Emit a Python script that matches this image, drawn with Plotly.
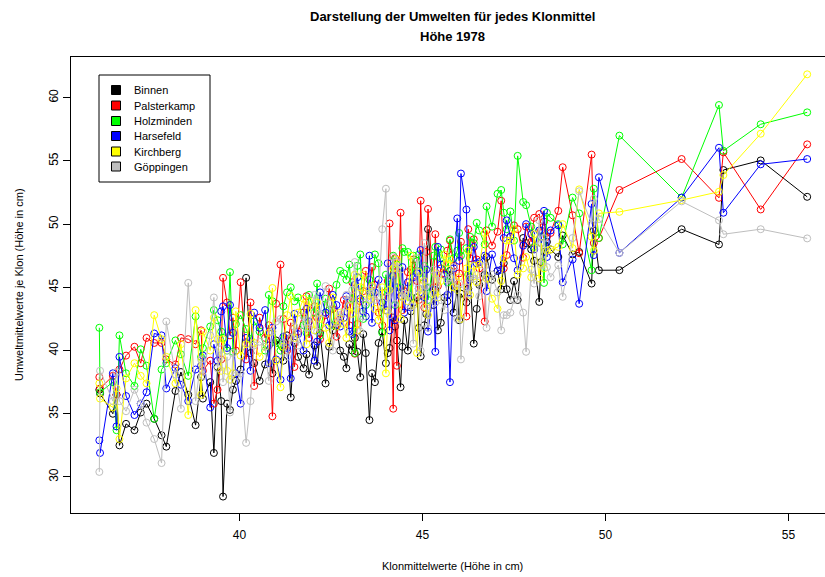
import plotly.graph_objects as go

# Klonmittelwerte (x) and the six environment means per clone (cm, 1978)
clone_mean = [36.17, 36.19, 36.54, 36.64, 36.72, 37.13, 37.46, 37.67, 37.87, 38.0,
              38.4, 38.6, 38.8, 39.0, 39.2, 39.3, 39.5, 39.55, 39.66, 39.74,
              39.9, 40.03, 40.18, 40.4, 40.55, 40.7, 40.9, 41.0, 41.12, 41.3,
              41.4, 41.6, 41.75, 41.9, 42.05, 42.2, 42.35, 42.55, 42.75, 42.85,
              43.0, 43.15, 43.3, 43.45, 43.55, 43.7, 43.9, 44.0, 44.1, 44.2,
              44.3, 44.4, 44.5, 44.6, 44.75, 44.85, 44.95, 45.05, 45.15, 45.3,
              45.35, 45.5, 45.6, 45.75, 45.85, 45.95, 46.05, 46.2, 46.3, 46.4,
              46.55, 46.7, 46.75, 47.05, 47.15, 47.3, 47.4, 47.6, 47.75, 47.83,
              47.97, 48.19, 48.24, 48.32, 48.5, 48.71, 48.83, 49.28, 49.62, 49.68,
              49.82, 50.38, 52.08, 53.1, 53.22, 54.24, 55.51,
              38.25, 38.95, 39.4, 39.82, 40.3, 40.8, 41.2, 41.5, 41.83, 42.12,
              42.45, 42.65, 42.92, 43.08, 43.22, 43.38, 43.62, 43.8, 44.05, 44.25,
              44.45, 44.68, 44.9, 45.1, 45.42, 45.68, 46.0, 46.25, 46.48, 46.9,
              47.22, 47.5, 48.05, 48.4, 37.3, 36.9, 49.1]

binnen = [36.9, 36.6, 35.0, 36.5, 32.5, 33.7, 35.8, 34.6, 33.3, 32.4,
          38.3, 36.5, 34.1, 36.2, 37.5, 31.9, 36.0, 28.45, 35.8, 35.3,
          37.6, 38.5, 45.75, 39.0, 37.6, 38.9, 38.2, 40.8, 40.5, 41.2,
          36.3, 39.5, 38.6, 38.1, 40.4, 41.4, 37.4, 41.6, 40.0, 39.5,
          40.5, 41.0, 37.9, 39.8, 34.5, 37.5, 41.5, 39.0, 40.2, 42.6,
          40.8, 37.1, 42.4, 40.0, 43.8, 44.2, 39.55, 42.0, 49.6, 43.6,
          44.8, 42.2, 44.2, 46.3, 43.0, 45.0, 44.5, 43.8, 45.8, 40.55,
          45.2, 46.0, 47.4, 46.3, 44.85, 44.85, 44.0, 44.0, 48.9, 48.5,
          48.0, 43.85, 47.0, 47.8, 48.0, 47.4, 49.1, 47.8, 45.3, 49.5,
          46.35, 46.36, 49.6, 48.39, 54.28, 55.04, 52.16,
          36.8, 37.9, 38.7, 36.9, 39.8, 40.4, 39.2, 40.6, 39.7, 38.8,
          40.3, 41.9, 38.6, 40.0, 39.9, 41.3, 38.2, 40.6, 39.8, 41.9,
          40.3, 43.1, 41.8, 42.9, 41.6, 43.9, 42.4, 44.9, 43.3, 45.6,
          46.9, 45.5, 47.1, 48.6, 35.1, 34.2, 47.6]

palsterkamp = [37.9, 37.0, 38.0, 36.5, 38.5, 40.3, 41.0, 40.6, 40.6, 39.3,
               41.0, 40.9, 40.5, 38.4, 39.2, 35.8, 39.3, 45.75, 43.8, 41.2,
               40.0, 45.4, 39.3, 37.2, 42.6, 41.0, 34.8, 43.7, 46.8, 40.0,
               42.2, 41.5, 43.0, 41.0, 43.5, 40.9, 42.8, 43.3, 42.5, 44.0,
               42.0, 39.75, 43.9, 46.3, 44.8, 45.2, 42.0, 44.6, 50.05, 35.4,
               38.8, 50.9, 44.7, 46.2, 47.2, 45.5, 51.85, 43.4, 51.2, 45.0,
               49.2, 46.5, 46.1, 48.7, 46.7, 45.2, 48.6, 42.7, 47.3, 48.8,
               46.5, 42.3, 49.5, 49.4, 51.85, 47.55, 49.0, 49.6, 47.35, 49.8,
               48.6, 50.8, 49.5, 50.2, 49.3, 51.05, 54.5, 47.7, 55.5, 48.5,
               48.9, 52.7, 55.15, 52.08, 55.68, 51.16, 56.31,
               38.9, 41.6, 36.9, 42.6, 43.8, 42.0, 42.5, 38.7, 44.3, 42.6,
               44.9, 41.1, 43.6, 45.4, 42.1, 44.7, 46.6, 43.0, 45.5, 47.3,
               43.2, 46.4, 44.0, 47.8, 45.1, 47.9, 46.1, 49.6, 47.2, 48.3,
               46.5, 49.9, 50.5, 49.0, 39.0, 39.6, 50.7]

holzminden = [41.8, 36.7, 37.5, 33.7, 41.2, 37.2, 38.8, 34.6, 38.5, 39.0,
              39.7, 38.0, 42.7, 40.2, 41.9, 43.2, 41.5, 41.0, 40.0, 46.2,
              42.1, 42.8, 41.7, 42.3, 41.5, 40.0, 43.9, 40.6, 40.0, 44.6,
              45.0, 44.2, 42.0, 44.4, 43.0, 41.2, 44.1, 42.0, 46.3, 46.1,
              46.8, 39.8, 47.6, 43.6, 45.6, 47.6, 41.4, 46.0, 45.2, 47.5,
              46.8, 45.0, 47.8, 47.8, 47.5, 46.3, 45.8, 46.7, 44.0, 47.5,
              48.2, 48.0, 46.9, 48.8, 47.3, 47.9, 47.5, 48.1, 49.0, 48.5,
              49.5, 48.4, 51.4, 52.4, 52.7, 49.6, 51.0, 55.4, 51.75, 51.5,
              49.8, 49.5, 49.0, 45.35, 50.5, 50.0, 48.4, 50.85, 46.35, 52.8,
              48.9, 57.0, 52.1, 59.42, 55.8, 57.9, 58.84,
              40.8, 39.5, 42.4, 39.9, 40.9, 44.4, 43.5, 43.9, 41.4, 45.3,
              43.2, 45.2, 45.6, 44.1, 46.7, 42.5, 44.6, 46.9, 44.8, 43.6,
              48.1, 44.2, 47.6, 45.0, 47.4, 45.4, 49.3, 46.0, 50.1, 49.8,
              50.9, 48.7, 48.2, 50.9, 40.1, 38.2, 52.1]

harsefeld = [32.9, 31.9, 38.2, 34.0, 39.5, 34.9, 36.7, 41.35, 41.2, 37.0,
             37.3, 36.0, 38.5, 39.6, 35.5, 40.5, 43.1, 43.5, 40.2, 43.6,
             38.2, 35.8, 41.0, 43.0, 41.8, 43.2, 41.8, 39.3, 37.7, 40.2,
             37.8, 41.3, 40.0, 42.3, 39.2, 44.6, 43.0, 44.4, 41.9, 42.6,
             41.5, 45.2, 44.1, 42.7, 47.5, 44.6, 43.8, 43.2, 41.6, 45.9,
             45.0, 44.3, 43.0, 45.4, 45.8, 46.1, 47.95, 44.2, 41.5, 44.8,
             39.9, 46.8, 46.0, 37.5, 46.5, 50.45, 54.0, 51.15, 45.6, 48.2,
             47.0, 47.5, 44.7, 46.3, 46.4, 50.3, 49.0, 46.35, 48.3, 50.0,
             49.2, 49.5, 48.5, 51.05, 49.5, 49.9, 45.4, 43.7, 51.6, 47.55,
             53.7, 47.73, 52.1, 56.04, 50.9, 54.73, 55.15,
             38.6, 38.8, 39.2, 41.4, 38.4, 39.0, 41.1, 42.9, 43.3, 40.7,
             42.0, 43.6, 44.3, 41.3, 45.8, 43.1, 42.2, 45.6, 46.9, 42.4,
             46.6, 43.4, 44.9, 46.4, 48.2, 44.4, 47.1, 44.6, 46.9, 47.6,
             48.9, 47.3, 48.0, 47.4, 35.8, 36.4, 47.2]

kirchberg = [37.4, 36.2, 35.5, 37.0, 33.0, 39.0, 37.4, 42.8, 40.9, 39.5,
             40.5, 34.9, 43.2, 41.5, 40.0, 42.6, 38.4, 40.9, 38.4, 37.7,
             43.1, 39.6, 40.5, 40.6, 39.5, 40.3, 44.95, 39.2, 37.1, 42.8,
             44.3, 43.0, 44.1, 43.9, 41.6, 42.5, 41.8, 44.2, 43.0, 42.1,
             43.5, 46.0, 45.0, 44.5, 44.0, 43.3, 45.0, 38.2, 44.8, 46.5,
             47.2, 42.5, 44.5, 43.9, 43.6, 39.8, 44.5, 45.5, 42.8, 44.5,
             46.1, 45.5, 47.6, 47.2, 45.0, 44.8, 42.5, 46.5, 44.4, 46.7,
             46.8, 49.3, 45.7, 43.3, 45.5, 48.7, 48.7, 46.0, 46.5, 47.4,
             45.8, 45.7, 48.5, 46.5, 48.0, 48.2, 50.0, 52.75, 49.0, 47.9,
             50.85, 50.97, 51.9, 52.56, 53.88, 57.15, 61.85,
             37.4, 36.5, 40.9, 38.2, 42.9, 41.4, 40.3, 41.0, 40.5, 43.8,
             40.6, 41.9, 41.0, 42.9, 41.6, 46.0, 45.1, 42.4, 43.1, 46.6,
             44.3, 47.5, 46.2, 43.4, 44.2, 46.9, 45.8, 47.9, 45.4, 44.1,
             47.3, 49.6, 49.2, 47.9, 38.0, 37.8, 48.1]

goeppingen = [30.4, 38.4, 36.0, 38.3, 36.0, 36.9, 34.3, 33.0, 31.1, 42.3,
              35.4, 45.35, 36.0, 38.0, 41.2, 44.2, 40.1, 37.5, 39.5, 35.1,
              38.0, 38.2, 32.7, 40.4, 40.7, 40.3, 41.5, 42.3, 42.5, 39.5,
              41.0, 40.4, 42.7, 41.8, 44.4, 42.9, 45.1, 40.0, 42.8, 43.0,
              44.0, 47.0, 41.5, 43.8, 44.8, 44.0, 49.6, 52.8, 42.8, 47.4,
              47.0, 46.4, 44.5, 44.4, 40.55, 47.3, 40.0, 48.5, 41.8, 46.4,
              43.8, 44.0, 43.2, 45.8, 46.6, 42.5, 39.3, 45.0, 45.7, 45.7,
              44.3, 46.7, 41.8, 44.6, 41.6, 42.8, 43.0, 44.4, 43.0, 39.9,
              46.4, 50.3, 46.8, 48.9, 45.8, 46.75, 44.25, 52.6, 50.0, 52.0,
              50.4, 47.73, 51.8, 50.3, 49.2, 49.6, 48.87,
              38.1, 39.3, 38.6, 39.8, 36.0, 37.6, 40.6, 41.9, 41.8, 41.5,
              43.7, 42.2, 44.4, 44.8, 43.2, 42.7, 45.0, 44.3, 44.2, 43.7,
              44.2, 43.5, 44.9, 45.1, 46.0, 45.6, 45.3, 44.5, 45.98, 46.0,
              42.8, 44.0, 45.3, 46.6, 35.8, 35.2, 48.9]

env_names = ["Binnen", "Palsterkamp", "Holzminden", "Harsefeld", "Kirchberg", "Göppingen"]
env_values = [binnen, palsterkamp, holzminden, harsefeld, kirchberg, goeppingen]
env_colors = ["#000000", "#FF0000", "#00FF00", "#0000FF", "#FFFF00", "#BEBEBE"]

x_ticks = [40, 45, 50, 55]
y_ticks = [30, 35, 40, 45, 50, 55, 60]

FONT = "Liberation Sans, Arial, Helvetica, sans-serif"
W, H = 825, 577
ML, MR, MT, MB = 71, 0, 57, 64
PW, PH = W - ML - MR, H - MT - MB


def px(xp):
    return (xp - ML) / PW


def py(yp):
    return (H - MB - yp) / PH


# lines connect the clones in order of their overall mean
order = sorted(range(len(clone_mean)), key=lambda i: clone_mean[i])
xs = [clone_mean[i] for i in order]

fig = go.Figure()

for name, vals, col in zip(env_names, env_values, env_colors):
    ys = [vals[i] for i in order]
    fig.add_trace(go.Scatter(
        x=xs, y=ys, mode="lines+markers", name=name,
        line=dict(color=col, width=1),
        marker=dict(symbol="circle-open", size=7, color=col, line=dict(width=1, color=col)),
        showlegend=False, hoverinfo="x+y+name",
    ))

shapes = []
annotations = []

# legend box drawn in the upper left of the plot
shapes.append(dict(type="rect", xref="paper", yref="paper",
                   x0=px(99), x1=px(210), y0=py(182), y1=py(75),
                   line=dict(color="black", width=1), fillcolor="white", layer="above"))
row_y = [90, 105.5, 121, 136, 151.5, 166.5]
for name, col, ry in zip(env_names, env_colors, row_y):
    shapes.append(dict(type="rect", xref="paper", yref="paper",
                       x0=px(111.5), x1=px(120.5), y0=py(ry + 4.5), y1=py(ry - 4.5),
                       line=dict(color="black", width=1), fillcolor=col, layer="above"))
    annotations.append(dict(text=name, xref="paper", yref="paper", x=px(132), y=py(ry),
                            xanchor="left", yanchor="middle", showarrow=False,
                            font=dict(family=FONT, size=11, color="black")))

# titles
annotations.append(dict(text="<b>Darstellung der Umwelten für jedes Klonmittel</b>",
                        xref="paper", yref="paper", x=px(452), y=py(17),
                        xanchor="center", yanchor="middle", showarrow=False,
                        font=dict(family=FONT, size=13, color="black")))
annotations.append(dict(text="<b>Höhe 1978</b>",
                        xref="paper", yref="paper", x=px(452), y=py(36),
                        xanchor="center", yanchor="middle", showarrow=False,
                        font=dict(family=FONT, size=13, color="black")))
annotations.append(dict(text="Klonmittelwerte (Höhe in cm)",
                        xref="paper", yref="paper", x=px(453), y=py(566),
                        xanchor="center", yanchor="middle", showarrow=False,
                        font=dict(family=FONT, size=11, color="black")))
annotations.append(dict(text="Umweltmittelwerte je Klon (Höhe in cm)",
                        xref="paper", yref="paper", x=px(19), y=py(285),
                        xanchor="center", yanchor="middle", showarrow=False, textangle=-90,
                        font=dict(family=FONT, size=11, color="black")))

fig.update_layout(
    width=W, height=H,
    margin=dict(l=ML, r=MR, t=MT, b=MB, pad=0),
    plot_bgcolor="white", paper_bgcolor="white",
    showlegend=False,
    shapes=shapes, annotations=annotations,
    font=dict(family=FONT, size=12, color="black"),
    xaxis=dict(range=[35.396, 55.997], tickvals=x_ticks, ticktext=[str(v) for v in x_ticks],
               showgrid=False, zeroline=False, showline=True, linecolor="black", linewidth=1,
               mirror=True, ticks="outside", ticklen=7, tickwidth=1, tickcolor="black",
               ticklabelstandoff=4,
               tickfont=dict(family=FONT, size=12, color="black")),
    yaxis=dict(range=[27.15, 63.22], tickvals=y_ticks, ticktext=[str(v) for v in y_ticks],
               showgrid=False, zeroline=False, showline=True, linecolor="black", linewidth=1,
               mirror=False, ticks="outside", ticklen=7, tickwidth=1, tickcolor="black",
               tickangle=-90,
               tickfont=dict(family=FONT, size=12, color="black")),
)

fig.write_html("out.html")
